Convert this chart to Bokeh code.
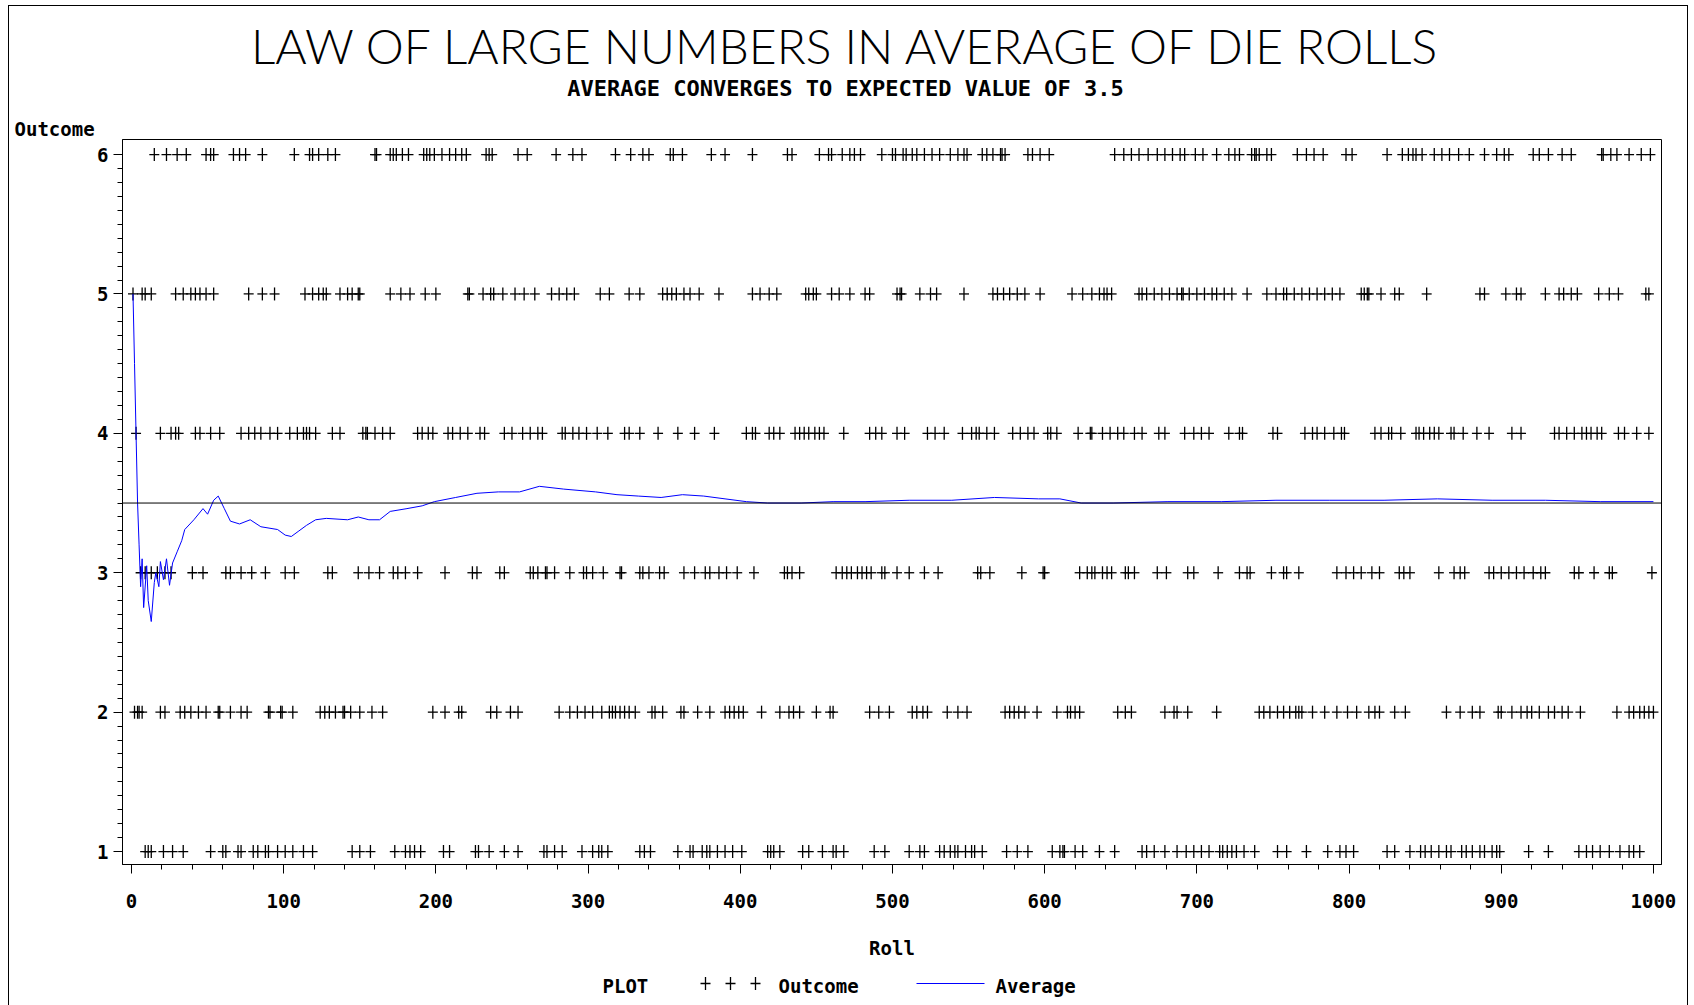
import math
from bokeh.plotting import figure
from bokeh.models import Range1d, Span, FixedTicker, Title
from bokeh.layouts import column
from bokeh.core.properties import value
from bokeh.embed import file_html
from bokeh.resources import INLINE

rolls_6 = [15, 23, 30, 36, 49, 52, 54, 67, 71, 75, 86, 107, 117, 119, 123, 129, 134,
           160, 161, 170, 172, 174, 178, 182, 192, 194, 196, 199, 204, 209, 213, 217, 220,
           233, 235, 237, 254, 260, 279, 290, 296, 318, 328, 336, 340, 354, 356, 362,
           381, 390, 408, 431, 434, 452, 458, 460, 467, 472, 475, 479, 493, 500,
           502, 507, 509, 513, 516, 521, 526, 531, 538, 543, 547, 549, 559, 562, 566, 571,
           572, 574, 589, 592, 597, 603, 646, 652, 657, 662, 668, 674, 679, 684, 689, 692,
           699, 704, 713, 721, 725, 728, 736, 738, 739, 741, 746, 749, 766, 772, 777, 783,
           798, 802, 825, 835, 839, 842, 844, 848, 856, 861, 866, 872, 879, 889, 897, 902,
           905, 921, 925, 931, 940, 946, 966, 967, 972, 976, 984, 992, 998]
rolls_5 = [1, 7, 9, 13, 29, 34, 39, 42, 45, 49, 54, 77, 86, 94, 114, 119, 123, 126, 128,
           137, 142, 145, 149, 150, 170, 177, 183, 193, 200, 221, 222, 231, 236, 238, 244,
           252, 258, 265, 276, 281, 286, 291, 308, 314, 327, 334, 349, 352, 355, 358, 363,
           367, 373, 386, 408, 413, 419, 424, 443, 445, 448, 450, 460, 465, 472, 482, 485,
           503, 505, 506, 518, 525, 529, 547, 566, 569, 573, 577, 582, 587, 597, 618, 625,
           631, 636, 639, 641, 644, 662, 664, 667, 672, 677, 682, 687, 690, 691, 695, 700,
           705, 710, 713, 718, 723, 733, 746, 752, 757, 759, 764, 769, 774, 779, 784, 789,
           794, 808, 810, 812, 813, 821, 830, 833, 851, 886, 889, 903, 910, 913, 929, 938,
           941, 946, 950, 964, 971, 977, 995, 997]
rolls_4 = [3, 19, 26, 29, 31, 42, 45, 52, 58, 72, 77, 81, 85, 91, 96, 104, 109, 113, 115,
           117, 121, 132, 137, 152, 154, 155, 160, 165, 170, 188, 191, 195, 198, 208, 211,
           216, 221, 229, 232, 245, 250, 257, 262, 267, 270, 283, 285, 290, 294, 299, 306,
           313, 324, 327, 334, 346, 359, 370, 383, 404, 408, 410, 419, 422, 426, 436, 439,
           442, 445, 449, 452, 455, 468, 485, 489, 493, 503, 508, 523, 528, 534, 546, 552,
           555, 557, 562, 567, 579, 584, 589, 593, 602, 604, 608, 622, 630, 631, 638, 643,
           648, 652, 659, 664, 675, 679, 692, 698, 703, 708, 721, 728, 730, 750, 753, 771,
           776, 779, 784, 790, 795, 797, 817, 821, 826, 828, 834, 844, 846, 849, 853, 856,
           859, 867, 869, 875, 884, 892, 907, 913, 935, 938, 943, 948, 953, 956, 959, 963,
           966, 977, 981, 989, 997]
rolls_3 = [6, 9, 13, 17, 22, 26, 40, 47, 62, 65, 72, 79, 88, 101, 107, 129, 132, 149, 156,
           163, 172, 175, 180, 188, 206, 224, 227, 242, 245, 262, 264, 267, 272, 273, 278,
           288, 297, 299, 303, 310, 321, 322, 334, 336, 340, 347, 350, 363, 370, 377, 380,
           386, 391, 398, 409, 429, 431, 434, 439, 463, 467, 470, 473, 477, 480, 483, 486,
           493, 495, 503, 511, 521, 530, 556, 558, 564, 585, 599, 600, 623, 628, 631, 633,
           638, 641, 644, 653, 655, 659, 674, 680, 694, 698, 714, 728, 733, 735, 749, 757,
           759, 767, 792, 798, 803, 808, 815, 820, 833, 836, 840, 859, 869, 873, 876, 892,
           895, 900, 905, 910, 915, 921, 926, 929, 948, 951, 961, 971, 973, 999]
rolls_2 = [2, 4, 5, 7, 19, 22, 32, 35, 39, 44, 49, 57, 58, 65, 72, 76, 90, 91, 98, 99, 106,
           124, 127, 130, 134, 139, 140, 144, 150, 158, 165, 198, 206, 215, 217, 236, 240,
           249, 254, 281, 288, 293, 298, 303, 309, 314, 316, 318, 321, 324, 327, 331, 342,
           344, 349, 361, 363, 372, 380, 390, 393, 396, 399, 402, 414, 426, 432, 435, 439,
           450, 459, 461, 485, 491, 498, 513, 516, 520, 523, 536, 543, 549, 574, 577, 580,
           583, 587, 595, 608, 615, 617, 620, 623, 648, 653, 657, 679, 685, 687, 694, 713,
           741, 744, 748, 753, 757, 761, 765, 767, 769, 776, 784, 792, 799, 805, 813, 817,
           820, 830, 837, 864, 873, 881, 886, 898, 900, 907, 913, 917, 920, 925, 931, 935,
           940, 944, 952, 976, 984, 987, 991, 994, 997, 1000]
rolls_1 = [9, 11, 13, 21, 27, 34, 52, 60, 62, 70, 72, 80, 83, 88, 90, 96, 101, 106, 113,
           119, 145, 150, 157, 173, 180, 183, 186, 190, 205, 209, 226, 228, 235, 245, 254,
           271, 273, 278, 283, 296, 303, 307, 309, 313, 334, 337, 341, 359, 367, 369, 375,
           378, 380, 385, 390, 395, 401, 418, 420, 422, 426, 441, 445, 454, 461, 463, 468,
           488, 495, 511, 518, 521, 531, 534, 538, 541, 543, 548, 552, 554, 559, 575, 582,
           589, 605, 610, 612, 613, 620, 625, 636, 646, 664, 667, 672, 679, 687, 693, 698,
           703, 708, 715, 717, 720, 723, 726, 731, 738, 753, 759, 772, 786, 794, 798, 803,
           825, 830, 840, 847, 850, 854, 859, 864, 867, 874, 877, 881, 886, 889, 894, 897,
           899, 918, 931, 951, 956, 960, 965, 971, 978, 984, 987, 991]

# Running average
avg_roll = [1, 2, 3, 4, 5, 6, 7, 8, 10, 11, 13, 15, 16, 18, 19, 21, 23, 25, 27, 30, 33, 35,
            41, 47, 50, 54, 57, 61, 65, 71, 78, 85, 96, 101, 105, 110, 115, 121, 128, 142,
            149, 156, 163, 170, 181, 191, 199, 213, 227, 241, 255, 268, 284, 305, 319, 333,
            348, 362, 376, 390, 404, 418, 440, 461, 482, 511, 539, 567, 596, 610, 624, 645,
            681, 716, 752, 787, 823, 858, 894, 929, 965, 1000]
avg_value = [5.0, 4.5, 4.0, 3.5, 3.2, 2.9, 3.1, 2.75, 3.05, 2.8, 2.65, 2.93, 3.0, 2.9, 3.08,
             2.95, 3.1, 2.91, 3.07, 3.15, 3.23, 3.31, 3.38, 3.46, 3.42, 3.52, 3.55, 3.46,
             3.37, 3.35, 3.38, 3.33, 3.31, 3.27, 3.26, 3.3, 3.34, 3.38, 3.39, 3.38, 3.4,
             3.38, 3.38, 3.44, 3.46, 3.48, 3.51, 3.54, 3.57, 3.58, 3.58, 3.62, 3.6, 3.58,
             3.56, 3.55, 3.54, 3.56, 3.55, 3.53, 3.51, 3.5, 3.5, 3.51, 3.51, 3.52, 3.52,
             3.54, 3.53, 3.53, 3.5, 3.5, 3.51, 3.51, 3.52, 3.52, 3.52, 3.53, 3.52, 3.52,
             3.51, 3.51]

expected_value = 3.5
x_ticks = list(range(0, 1001, 100))
y_ticks = [1, 2, 3, 4, 5, 6]

title_text = "LAW OF LARGE NUMBERS IN AVERAGE OF DIE ROLLS"
subtitle_text = "AVERAGE CONVERGES TO EXPECTED VALUE OF 3.5"
y_label = "Outcome"
x_label = "Roll"
legend_title = "PLOT"
legend_names = ["Outcome", "Average"]

MONO = "DejaVu Sans Mono"
W = 1694
LEFT = 122
RIGHT = 33
HEAD_H = 115
MAIN_H = 859
FOOT_H = 31
PLUS_W = 10
PLUS_H = 13


def panel(height):
    f = figure(width=W, height=height, output_backend="svg", toolbar_location=None,
               x_range=Range1d(LEFT, W - RIGHT), y_range=Range1d(height, 0),
               x_axis_type=None, y_axis_type=None,
               min_border_left=LEFT, min_border_right=RIGHT,
               min_border_top=0, min_border_bottom=0)
    f.grid.visible = False
    f.outline_line_color = None
    f.background_fill_color = None
    f.border_fill_color = None
    return f


def plus(fig, x, y):
    fig.scatter(x, y, marker="dash", size=PLUS_W, line_color="black", line_width=1.3)
    fig.scatter(x, y, marker="dash", size=PLUS_H, angle=math.pi / 2,
                line_color="black", line_width=1.3)


# ---- header: title and subtitle (x in page pixels)
head = panel(HEAD_H)
head.text(x=[846], y=[45], text=[title_text], text_font=value("'Lato Light', 'Liberation Sans'"),
          text_font_size="48px", text_align="center", text_baseline="middle", text_color="black")
head.text(x=[845], y=[88], text=[subtitle_text], text_font=value(MONO), text_font_style="bold",
          text_font_size="22px", text_align="center", text_baseline="middle", text_color="black")

# ---- main plot
p = figure(width=W, height=MAIN_H, output_backend="svg", toolbar_location=None,
           x_range=Range1d(-5.9, 1005.3), y_range=Range1d(0.907, 6.108),
           min_border_left=LEFT, min_border_right=RIGHT, min_border_top=1,
           min_border_bottom=110)
p.grid.visible = False
p.outline_line_color = "black"
p.outline_line_width = 1
p.background_fill_color = "white"
p.border_fill_color = None

p.add_layout(Title(text=y_label, align="left", offset=-108, standoff=0,
                   text_font=MONO, text_font_style="bold", text_font_size="19px",
                   text_color="black"), "above")

xs, ys = [], []
for val, rl in zip([1, 2, 3, 4, 5, 6], [rolls_1, rolls_2, rolls_3, rolls_4, rolls_5, rolls_6]):
    xs += rl
    ys += [val] * len(rl)

plus(p, xs, ys)
p.add_layout(Span(location=expected_value, dimension="width", line_color="black", line_width=1))
p.line(avg_roll, avg_value, line_color="#0000ff", line_width=1)

p.xaxis.ticker = FixedTicker(ticks=x_ticks, minor_ticks=list(range(0, 1001, 20)))
p.yaxis.ticker = FixedTicker(ticks=y_ticks, minor_ticks=[round(1 + 0.1 * i, 1) for i in range(51)])
for ax in (p.xaxis[0], p.yaxis[0]):
    ax.axis_line_color = "black"
    ax.major_tick_line_color = "black"
    ax.minor_tick_line_color = "black"
    ax.major_tick_in = 0
    ax.major_tick_out = 9
    ax.minor_tick_in = 0
    ax.minor_tick_out = 5
    ax.major_label_text_font = MONO
    ax.major_label_text_font_style = "bold"
    ax.major_label_text_font_size = "19px"
    ax.major_label_text_color = "black"
p.xaxis.major_label_standoff = 20
p.yaxis.major_label_standoff = 5
p.xaxis.axis_label = x_label
p.xaxis.axis_label_text_font = MONO
p.xaxis.axis_label_text_font_style = "bold"
p.xaxis.axis_label_text_font_size = "19px"
p.xaxis.axis_label_text_color = "black"
p.xaxis.axis_label_standoff = 26

# ---- footer: legend (x in page pixels)
foot = panel(FOOT_H)
ly = 11
foot.text(x=[602], y=[ly], text=[legend_title], text_font=value(MONO), text_font_style="bold",
          text_font_size="19px", text_align="left", text_baseline="middle", text_color="black")
plus(foot, [705, 730, 755], [ly - 2] * 3)
foot.text(x=[778], y=[ly], text=[legend_names[0]], text_font=value(MONO), text_font_style="bold",
          text_font_size="19px", text_align="left", text_baseline="middle", text_color="black")
foot.line(x=[916, 984], y=[ly - 2, ly - 2], line_color="#0000ff", line_width=1)
foot.text(x=[995], y=[ly], text=[legend_names[1]], text_font=value(MONO), text_font_style="bold",
          text_font_size="19px", text_align="left", text_baseline="middle", text_color="black")

frame_css = ("inset 8px 0 0 0 white, inset 0 5px 0 0 white, inset -6px 0 0 0 white, "
             "inset 9px 0 0 0 black, inset 0 6px 0 0 black, inset -7px 0 0 0 black")
layout = column(head, p, foot, spacing=0, styles={"box-shadow": frame_css})

open("out.html", "w").write(file_html(layout, INLINE))
